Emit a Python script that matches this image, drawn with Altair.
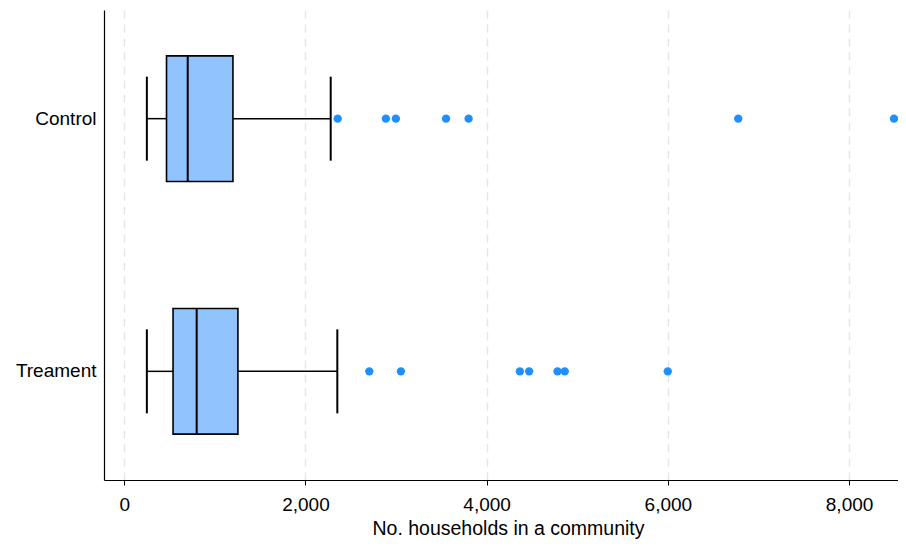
import altair as alt
import pandas as pd

groups = ["Control", "Treament"]
low = [250, 250]
q1 = [467, 539]
median = [701, 800]
q3 = [1200, 1255]
high = [2279, 2352]
outliers_control = [2356, 2888, 2998, 3552, 3801, 6777, 8496]
outliers_treatment = [2705, 3054, 4367, 4469, 4782, 4862, 5999]

stats = pd.DataFrame({"group": groups, "low": low, "q1": q1, "median": median,
                      "q3": q3, "high": high})
out = pd.DataFrame({
    "group": ["Control"] * len(outliers_control) + ["Treament"] * len(outliers_treatment),
    "value": outliers_control + outliers_treatment,
})

FONT = "Liberation Sans"
xscale = alt.Scale(domain=[-223, 8540], nice=False, zero=False)
yscale = alt.Scale(domain=groups, paddingInner=0.503, paddingOuter=0.1815)

xaxis = alt.Axis(title="No. households in a community", values=[0, 2000, 4000, 6000, 8000],
                 format=",d", grid=True, gridDash=[8, 6], gridColor="#e6e6e6", gridWidth=1.5,
                 domainColor="black", domainWidth=1.2, tickColor="black", tickSize=5,
                 labelFontSize=19, labelFont=FONT, labelColor="black", labelPadding=10,
                 titleFontSize=19.5, titleFont=FONT, titleColor="black", titleFontWeight="normal",
                 titlePadding=5, titleX=404, titleAlign="center", labelFlush=False)
yaxis = alt.Axis(title=None, ticks=False, grid=False, domainColor="black", domainWidth=1.2,
                 labelFontSize=19, labelFont=FONT, labelColor="black", labelPadding=8)

base = alt.Chart(stats)
y = alt.Y("group:N", scale=yscale, axis=yaxis, sort=groups)

w1 = base.mark_rule(color="black", strokeWidth=1.5).encode(
    x=alt.X("low:Q", scale=xscale, axis=xaxis), x2="q1:Q", y=y)
w2 = base.mark_rule(color="black", strokeWidth=1.5).encode(
    x=alt.X("q3:Q", scale=xscale), x2="high:Q", y=y)
cap1 = base.mark_tick(color="black", size=84, thickness=2, opacity=1).encode(
    x=alt.X("low:Q", scale=xscale), y=y)
cap2 = base.mark_tick(color="black", size=84, thickness=2, opacity=1).encode(
    x=alt.X("high:Q", scale=xscale), y=y)
box = base.mark_bar(color="#91c3ff", stroke="black", strokeWidth=1.6, opacity=1).encode(
    x=alt.X("q1:Q", scale=xscale), x2="q3:Q", y=y)
med = base.mark_tick(color="black", size=125, thickness=2, opacity=1).encode(
    x=alt.X("median:Q", scale=xscale), y=y)
pts = alt.Chart(out).mark_circle(color="#1e8fff", size=70, opacity=1).encode(
    x=alt.X("value:Q", scale=xscale), y=y)

chart = alt.layer(w1, w2, cap1, cap2, box, med, pts).properties(
    width=794, height=470,
    background="white",
    autosize=alt.AutoSizeParams(type="none"),
    padding={"left": 96, "top": 2, "right": 0, "bottom": 59},
).configure_view(stroke=None)

chart.save("out.html", embed_options={"renderer": "svg", "actions": False})
